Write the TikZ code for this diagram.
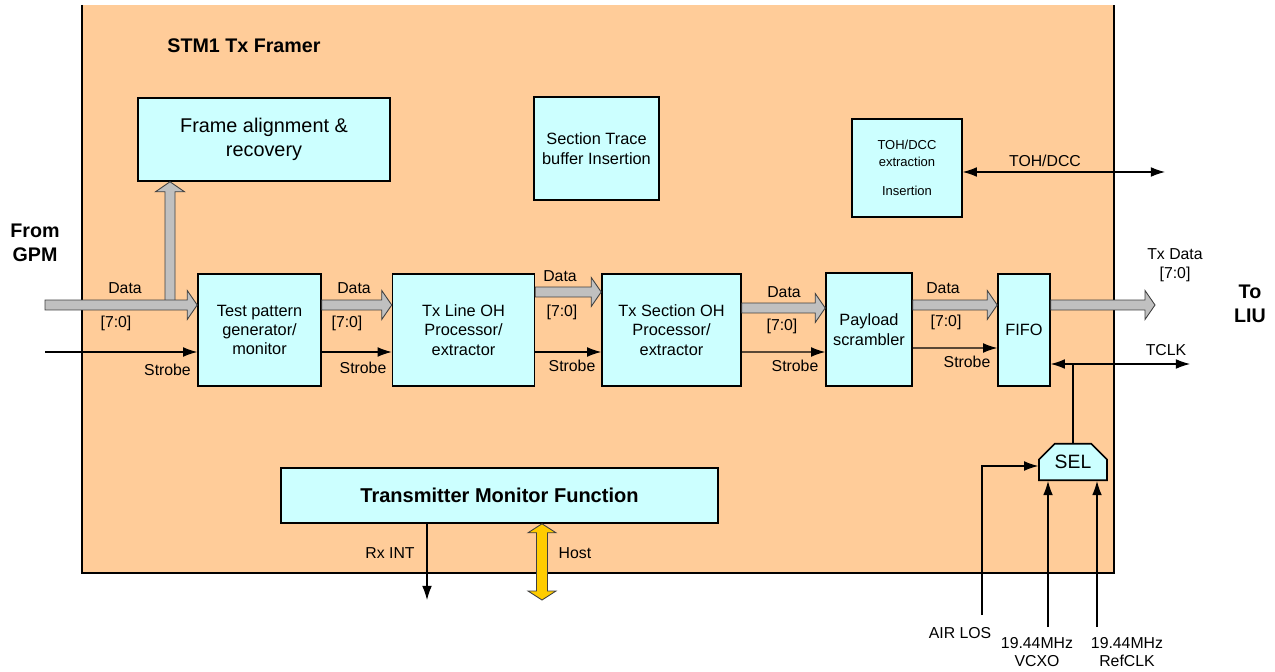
\documentclass[tikz,border=0pt]{standalone}
\usepackage{fontspec}
\setmainfont{Liberation Sans}
\usetikzlibrary{calc,arrows.meta}
\usetikzlibrary{shapes.misc}
\usetikzlibrary{positioning}
\definecolor{fr-peach}{HTML}{FFCC99}
\definecolor{fr-cyan}{HTML}{CCFFFF}
\definecolor{fr-bus}{HTML}{C0C0C0}
\definecolor{fr-host}{HTML}{FFCC00}
\definecolor{fr-edge}{HTML}{404040}

% fat bus arrow from #2 to #3
\newcommand{\busarrow}[3][]{%
  \path ($(#3)!0.2cm!(#2)$) coordinate (bh);
  \filldraw[bus,#1] ($(#2)!0.1cm!90:(#3)$) -- ($(bh)!0.1cm!-90:(#2)$) -- ($(bh)!0.29cm!-90:(#2)$)
    -- (#3) -- ($(bh)!0.29cm!90:(#2)$) -- ($(bh)!0.1cm!90:(#2)$) -- ($(#2)!0.1cm!-90:(#3)$) -- cycle;}

\begin{document}
\begin{tikzpicture}[
    x=0.02cm, y=-0.02cm,
    >={Latex[length=8pt,width=5.5pt]},
    box/.style={draw=black, line width=0.9pt, fill=fr-cyan, align=center, inner sep=2pt, font=\fontsize{9.3}{11}\selectfont},
    bus/.style={fill=fr-bus, draw=fr-edge, line width=0.5pt},
    host/.style={fill=fr-host, draw=fr-edge, line width=0.5pt},
    sig/.style={->, draw=black, line width=0.6pt},
    lbl/.style={font=\fontsize{9}{10.5}\selectfont, inner sep=0pt, align=center},
    heading/.style={font=\bfseries\fontsize{11.2}{13.5}\selectfont, inner sep=0pt, align=center}
]
\useasboundingbox (0,0) rectangle (1275,672);

% =========================================================================
% FRAMER BLOCK
% =========================================================================
\fill[fr-peach] (82,5) rectangle (1114,573);
\draw[line width=1.3pt] (82,5) -- (82,573) -- (1114,573) -- (1114,5);
\node[heading] (framer) at (244,46) {STM1 Tx Framer};

\node[heading] (fromgpm) at (35,243) {From\\GPM};
\node[heading] (toliu) at (1250,304) {To\\LIU};

% =========================================================================
% BLOCKS
% =========================================================================
\node[box, minimum width=5.04cm, minimum height=1.66cm, font=\fontsize{11.3}{14}\selectfont] (align) at (264,139.5) {Frame alignment \&\\recovery};
\node[box, minimum width=2.5cm, minimum height=2.06cm, font=\fontsize{9.3}{11.3}\selectfont] (trace) at (596.5,148.5) {Section Trace\\buffer Insertion};
\node[box, minimum width=2.2cm, minimum height=1.96cm, font=\fontsize{7.4}{9.6}\selectfont] (tohdcc) at (907,168) {TOH/DCC\\extraction\\[7pt]Insertion};

\node[box, minimum width=2.46cm, minimum height=2.24cm] (test) at (259.5,330) {Test pattern\\generator/\\monitor};
\node[box, minimum width=2.84cm, minimum height=2.24cm] (txline) at (463.5,330) {Tx Line OH\\Processor/\\extractor};
\node[box, minimum width=2.78cm, minimum height=2.24cm] (txsec) at (671.5,330) {Tx Section OH\\Processor/\\extractor};
\node[box, minimum width=1.72cm, minimum height=2.26cm] (payload) at (869,329.5) {Payload\\scrambler};
\node[box, minimum width=1.04cm, minimum height=2.24cm] (fifo) at (1024,330) {FIFO};

\node[box, chamfered rectangle, chamfered rectangle corners={north west,north east}, chamfered rectangle xsep=4.5pt, chamfered rectangle ysep=4.5pt, minimum width=1.36cm, minimum height=0.72cm, font=\fontsize{11}{13}\selectfont] (sel) at (1073,462) {SEL};

\node[box, minimum width=8.74cm, minimum height=1.1cm, font=\bfseries\fontsize{11.4}{13}\selectfont] (monitor) at (499.5,495.5) {Transmitter Monitor Function};

% =========================================================================
% DATA BUS
% =========================================================================
\coordinate (upfoot) at (170,304);
\coordinate (uphead) at (align.south -| upfoot);
\busarrow{upfoot}{uphead}

\coordinate (din) at (45,305);
\coordinate (d0) at ($(test.west)+(0,-25)$);
\busarrow{din}{d0}
\coordinate (d1a) at ($(test.east)+(0,-25)$);
\coordinate (d1b) at ($(txline.west)+(0,-25)$);
\busarrow{d1a}{d1b}
\coordinate (d2a) at ($(txline.east)+(0,-38)$);
\coordinate (d2b) at ($(txsec.west)+(0,-38)$);
\busarrow{d2a}{d2b}
\coordinate (d3a) at ($(txsec.east)+(0,-22)$);
\coordinate (d3b) at ($(payload.west)+(0,-21.5)$);
\busarrow{d3a}{d3b}
\coordinate (d4a) at ($(payload.east)+(0,-24.5)$);
\coordinate (d4b) at ($(fifo.west)+(0,-25)$);
\busarrow{d4a}{d4b}
\coordinate (d5a) at ($(fifo.east)+(0,-25)$);
\coordinate (dout) at (1155,305);
\busarrow{d5a}{dout}

\node[lbl] (data0) at (125,288) {Data};
\node[lbl] (bits0) at (116,323) {[7:0]};
\node[lbl] (data1) at (354,288) {Data};
\node[lbl] (bits1) at (347,323) {[7:0]};
\node[lbl] (data2) at (560,276) {Data};
\node[lbl] (bits2) at (562,312) {[7:0]};
\node[lbl] (data3) at (784,292) {Data};
\node[lbl] (bits3) at (782,326) {[7:0]};
\node[lbl] (data4) at (943,288) {Data};
\node[lbl] (bits4) at (946,322) {[7:0]};
\node[lbl] (txdata) at (1175,265) {Tx Data\\{}[7:0]};

% =========================================================================
% STROBES AND CLOCKS
% =========================================================================
\coordinate (sin) at (45,352);
\draw[sig] (sin) -- (sin -| test.west);
\draw[sig] ($(test.east)+(0,22)$) -- ($(txline.west)+(0,22)$);
\draw[sig] ($(txline.east)+(0,22)$) -- ($(txsec.west)+(0,22)$);
\draw[sig] ($(txsec.east)+(0,22)$) -- ($(payload.west)+(0,22.5)$);
\draw[sig] ($(payload.east)+(0,18.5)$) -- ($(fifo.west)+(0,18)$);

\node[lbl] (strobe0) at (167.5,370) {Strobe};
\node[lbl] (strobe1) at (363,368) {Strobe};
\node[lbl] (strobe2) at (572,366) {Strobe};
\node[lbl] (strobe3) at (795,366) {Strobe};
\node[lbl] (strobe4) at (967,362) {Strobe};

\coordinate (tclk) at (1190,364);
\draw[sig, <->] (fifo.east |- tclk) -- (tclk);
\draw[sig, -] (sel.north) -- (sel.north |- tclk);
\node[lbl] (tclklbl) at (1166,350) {TCLK};

\coordinate (tohout) at (1165,172);
\draw[sig, <->] (tohdcc.east |- tohout) -- (tohout);
\node[lbl] (tohlbl) at (1045,161) {TOH/DCC};

\coordinate (airlos) at (982,615);
\coordinate (vcxo) at (1048,627);
\coordinate (refclk) at (1097,627);
\draw[sig] (airlos) |- ($(sel.west)+(0,4)$);
\draw[sig] (vcxo) -- (vcxo |- sel.south);
\draw[sig] (refclk) -- (refclk |- sel.south);
\node[lbl] (airloslbl) at (960,633) {AIR LOS};
\node[lbl] (vcxolbl) at (1037,652) {19.44MHz\\VCXO};
\node[lbl] (refclklbl) at (1127,652) {19.44MHz\\RefCLK};

% =========================================================================
% MONITOR OUTPUTS
% =========================================================================
\coordinate (rxint) at (427,600);
\draw[sig] (monitor.south -| rxint) -- (rxint);
\node[lbl] (rxintlbl) at (390,553) {Rx INT};

\coordinate (hostb) at (542,600);
\coordinate (hostt) at (monitor.south -| hostb);
\path ($(hostt)!0.18cm!(hostb)$) coordinate (ht) ($(hostb)!0.18cm!(hostt)$) coordinate (hb);
\filldraw[host] (hostt) -- ($(ht)!0.28cm!90:(hostb)$) -- ($(ht)!0.11cm!90:(hostb)$) -- ($(hb)!0.11cm!-90:(hostt)$)
  -- ($(hb)!0.28cm!-90:(hostt)$) -- (hostb) -- ($(hb)!0.28cm!90:(hostt)$) -- ($(hb)!0.11cm!90:(hostt)$)
  -- ($(ht)!0.11cm!-90:(hostb)$) -- ($(ht)!0.28cm!-90:(hostb)$) -- cycle;
\node[lbl] (hostlbl) at (575,553) {Host};

\end{tikzpicture}
\end{document}
